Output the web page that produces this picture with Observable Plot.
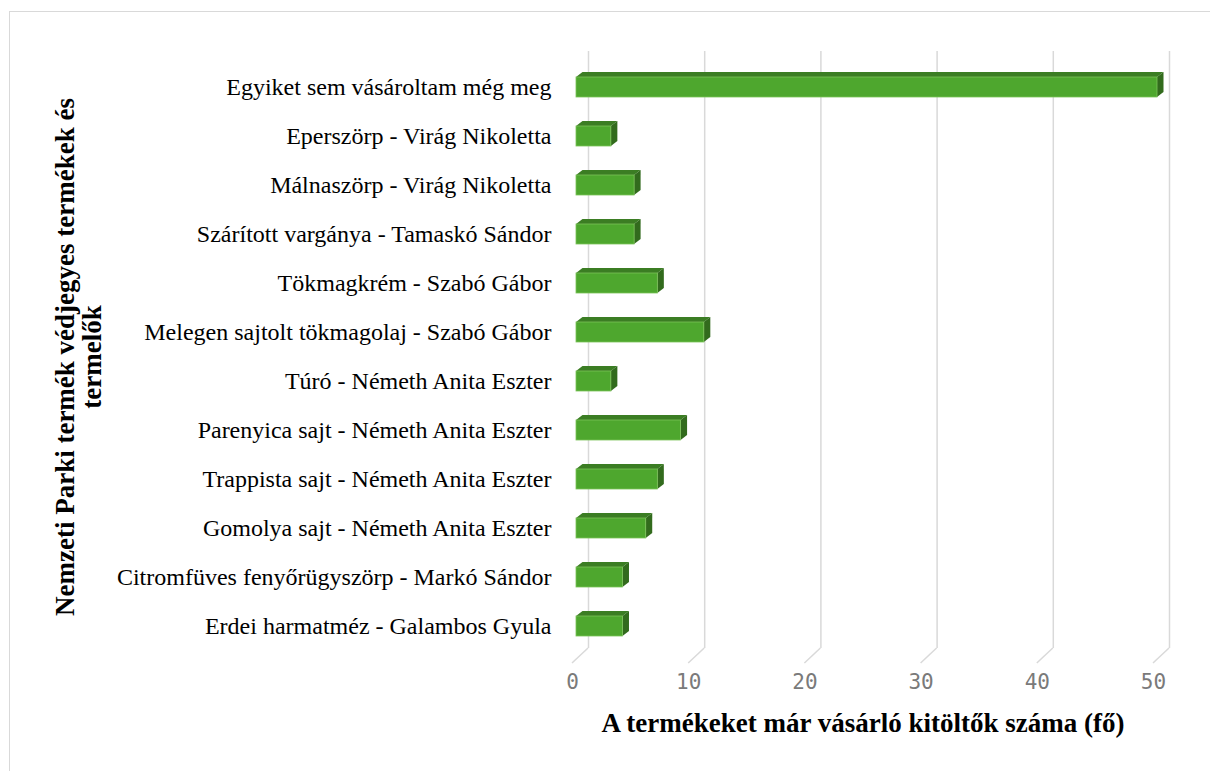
<!DOCTYPE html>
<html>
<head>
<meta charset="utf-8">
<script src="https://cdn.jsdelivr.net/npm/d3@7"></script>
<script src="https://cdn.jsdelivr.net/npm/@observablehq/plot@0.6"></script>
<style>
  html, body { margin: 0; padding: 0; background: #fff; }
  #wrap { position: relative; width: 1210px; height: 771px; overflow: hidden; }
  #frame { position: absolute; left: 9px; top: 11px; width: 1300px; height: 900px;
           border-top: 1.5px solid #d9d9d9; border-left: 1.5px solid #d9d9d9; }
  #chart { position: absolute; left: 0; top: 0; }
</style>
</head>
<body>
<div id="wrap"><div id="frame"></div><div id="chart"></div></div>
<script>
const categories = [
  "Egyiket sem vásároltam még meg",
  "Eperszörp - Virág Nikoletta",
  "Málnaszörp - Virág Nikoletta",
  "Szárított vargánya - Tamaskó Sándor",
  "Tökmagkrém - Szabó Gábor",
  "Melegen sajtolt tökmagolaj - Szabó Gábor",
  "Túró - Németh Anita Eszter",
  "Parenyica sajt - Németh Anita Eszter",
  "Trappista sajt - Németh Anita Eszter",
  "Gomolya sajt - Németh Anita Eszter",
  "Citromfüves fenyőrügyszörp - Markó Sándor",
  "Erdei harmatméz - Galambos Gyula"
];
const counts = [50, 3, 5, 5, 7, 11, 3, 9, 7, 6, 4, 4];
const xTicks = [0, 10, 20, 30, 40, 50];
const xTitle = "A termékeket már vásárló kitöltők száma (fő)";
const yTitle = "Nemzeti Parki termék védjegyes termékek és\ntermelők";

const data = categories.map((c, i) => ({category: c, count: counts[i]}));

const DX = 6.5, DY = 5;       // bar depth (px)
const WX = 12, WY = 7;        // back-wall offset (px)
const FX = 16, FY = 15;       // floor depth (px)

function depthFaces(index, scales) {
  const x = scales.x, y = scales.y;
  const bw = typeof y.bandwidth === "function" ? y.bandwidth() : y.bandwidth;
  const g = d3.create("svg:g");
  const bottom = y.range ? Math.max(...y.range()) : 655;
  for (const t of xTicks) {
    g.append("line")
      .attr("x1", x(t) + WX).attr("y1", bottom - WY)
      .attr("x2", x(t) + WX - FX).attr("y2", bottom - WY + FY)
      .attr("stroke", "#d9d9d9").attr("stroke-width", 1.5);
  }
  data.forEach(d => {
    const x0 = x(0), x1 = x(d.count), y0 = y(d.category), y1 = y0 + bw;
    g.append("polygon")
      .attr("points", [[x0, y0], [x1, y0], [x1 + DX, y0 - DY], [x0 + DX, y0 - DY]].map(p => p.join(",")).join(" "))
      .attr("fill", "#3b7d23");
    g.append("polygon")
      .attr("points", [[x1, y0], [x1 + DX, y0 - DY], [x1 + DX, y1 - DY], [x1, y1]].map(p => p.join(",")).join(" "))
      .attr("fill", "#326b1d");
  });
  return g.node();
}

const plot = Plot.plot({
  width: 1210,
  height: 771,
  marginLeft: 576,
  marginRight: 53,
  marginTop: 58,
  marginBottom: 116,
  style: {fontFamily: "'Liberation Serif', 'Times New Roman', serif", fontSize: "24px", color: "#000", background: "transparent"},
  x: {domain: [0, 50], axis: null},
  y: {domain: categories, paddingInner: 0.6, paddingOuter: 0.3, tickSize: 0, tickPadding: 25, label: null},
  marks: [
    Plot.ruleX(xTicks, {x: d => d, dx: WX, dy: -WY, stroke: "#d9d9d9", strokeWidth: 1.5}),
    depthFaces,
    Plot.barX(data, {x: "count", y: "category", fill: "#4ea72e", stroke: "#7cc259", strokeWidth: 0.8}),
    Plot.text(xTicks, {x: d => d, text: d => String(d), frameAnchor: "bottom", dx: -4, dy: 33,
      fontFamily: "'DejaVu Sans Mono', monospace", fontSize: 21, fill: "#7a7a7a", fontWeight: 300}),
    Plot.text([xTitle], {text: d => d, frameAnchor: "bottom", textAnchor: "middle", dx: -4, dy: 76,
      fontWeight: "bold", fontSize: 27, fill: "#000"}),
    Plot.text([yTitle], {text: d => d, frameAnchor: "left", textAnchor: "middle", dx: -498, dy: 0, rotate: -90,
      fontWeight: "bold", fontSize: 27, lineHeight: 1.0, fill: "#000"})
  ]
});
document.getElementById("chart").appendChild(plot);
</script>
</body>
</html>
